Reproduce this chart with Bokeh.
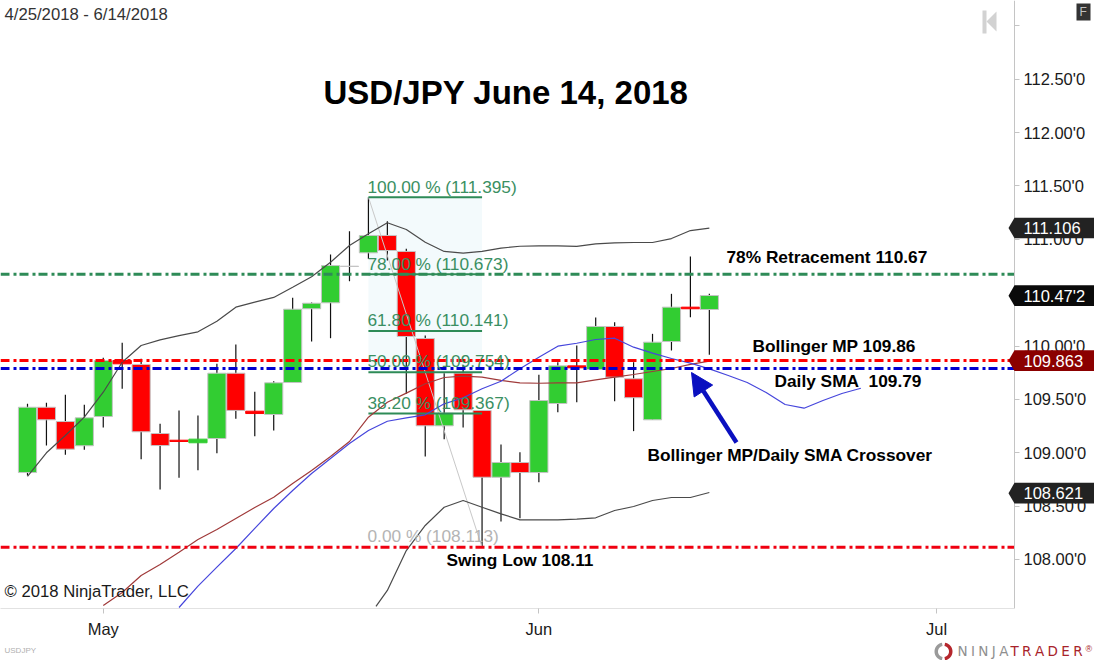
import numpy as np
from bokeh.plotting import figure
from bokeh.models import (Range1d, FixedTicker, CustomJSTickFormatter, Label, LinearAxis,
                          PolyAnnotation, Arrow, NormalHead)
from bokeh.embed import file_html
from bokeh.resources import INLINE

# ---- data ----
opens = [108.814,109.426,109.292,109.065,109.339,109.864,109.827,109.180,109.117,109.093,
         109.133,109.745,109.389,109.358,109.658,110.349,110.405,110.748,110.873,111.036,
         110.886,110.070,109.252,109.745,109.396,108.770,108.908,108.814,109.461,109.814,
         109.780,110.183,109.693,109.308,110.042,110.364,110.342]
closes = [109.426,109.308,109.033,109.327,109.864,109.833,109.196,109.067,109.105,109.127,
          109.745,109.396,109.367,109.655,110.345,110.401,110.754,110.745,111.036,110.895,
          110.089,109.252,109.370,109.402,108.770,108.908,108.814,109.489,109.814,109.796,
          110.183,109.708,109.515,110.036,110.364,110.349,110.473]
highs = [109.458,109.468,109.543,109.449,109.889,110.030,109.880,109.271,109.396,109.349,
         109.833,110.014,109.571,109.670,110.452,110.408,110.858,111.076,111.395,111.170,
         110.911,110.098,109.745,109.817,109.396,109.077,109.005,109.730,109.848,110.005,
         110.267,110.223,109.848,110.114,110.489,110.839,110.489]
lows = [108.786,109.067,108.980,109.027,109.236,109.599,108.939,108.655,108.765,108.836,
        108.995,109.318,109.155,109.208,109.658,110.042,110.073,110.607,110.817,110.801,
        109.552,108.964,109.127,109.236,108.113,108.355,108.386,108.724,109.380,109.473,
        109.780,109.483,109.202,109.308,109.958,110.270,109.918]

boll_upper = [108.777,108.999,109.161,109.333,109.567,109.848,110.005,110.058,110.098,110.133,
              110.232,110.364,110.411,110.455,110.551,110.649,110.785,110.942,111.052,111.155,
              111.092,110.973,110.886,110.870,110.886,110.917,110.935,110.939,110.939,110.933,
              110.958,110.967,110.970,110.970,111.007,111.082,111.104]
boll_lower_x = [18.4] + list(range(19, 37))
boll_lower = [107.559,107.709,108.083,108.318,108.489,108.552,108.489,108.427,108.371,108.371,
              108.371,108.377,108.390,108.458,108.496,108.552,108.580,108.580,108.627]
boll_mid_start = 4
boll_mid = [107.568,107.690,107.849,107.952,108.067,108.187,108.280,108.383,108.486,108.583,
            108.711,108.833,108.964,109.105,109.333,109.473,109.558,109.646,109.705,109.717,
            109.708,109.677,109.655,109.651,109.655,109.655,109.683,109.708,109.733,109.761,
            109.789,109.827,109.858]
sma_start = 8
sma = [107.549,107.749,107.927,108.102,108.290,108.477,108.646,108.805,108.946,109.086,
       109.208,109.295,109.327,109.355,109.458,109.515,109.599,109.670,109.786,109.895,
       109.998,110.026,110.061,110.073,109.989,109.933,109.883,109.839,109.786,109.724,
       109.658,109.564,109.452,109.417,109.489,109.555,109.604]

fib_levels = [111.395, 110.673, 110.141, 109.754, 109.367, 108.113]
fib_labels = ["100.00 % (111.395)", "78.00 % (110.673)", "61.80 % (110.141)",
              "50.00 % (109.754)", "38.20 % (109.367)", "0.00 % (108.113)"]
fib_start, fib_end = 18, 24

retrace_78, boll_mp, daily_sma, swing_low = 110.673, 109.863, 109.79, 108.113

month_ticks = [4, 27, 48]
month_names = ["May", "Jun", "Jul"]
price_ticks = [108.0, 108.5, 109.0, 109.5, 110.0, 110.5, 111.0, 111.5, 112.0, 112.5, 113.0]

tag_prices = [111.106, 110.472, 109.863, 108.621]
tag_texts = ["111.106", "110.47'2", "109.863", "108.621"]
tag_colors = ["#222222", "#0a0a0a", "#8b0000", "#222222"]

# ---- page geometry helpers: page pixel -> chart coordinates ----
def px(x):
    return (x - 27.0) / 18.94
def py(y):
    return 110.0 + (345.5 - y) / 106.7

p = figure(width=1094, height=660, output_backend="svg", toolbar_location=None,
           x_axis_location=None, y_axis_location=None,
           x_range=Range1d(px(0), px(1094)), y_range=Range1d(py(660), py(0)),
           min_border_left=0, min_border_top=0, min_border_right=0, min_border_bottom=0)
p.outline_line_color = None
p.grid.visible = False
p.background_fill_color = "white"
p.border_fill_color = "white"

AX = "#c4c4c4"
FONT = "Liberation Sans"

ax = LinearAxis(fixed_location=px(1014), bounds=(py(608), py(0)))
ax.ticker = FixedTicker(ticks=price_ticks)
ax.formatter = CustomJSTickFormatter(code="return tick >= 113 ? '' : tick.toFixed(2) + \"'0\";")
ax.axis_line_color = AX
ax.major_tick_line_color = AX
ax.major_tick_in = 0
ax.major_tick_out = 5
ax.minor_tick_line_color = None
ax.major_label_standoff = 4
ax.major_label_text_font = FONT
ax.major_label_text_font_size = "16.5px"
ax.major_label_text_color = "#1a1a1a"
p.add_layout(ax, "right")

bx = LinearAxis(fixed_location=py(608), bounds=(px(0), px(1014)))
bx.ticker = FixedTicker(ticks=month_ticks)
bx.major_label_overrides = dict(zip(month_ticks, month_names))
bx.axis_line_color = AX
bx.axis_line_dash = "1 1"
bx.major_tick_line_color = AX
bx.major_tick_in = 0
bx.major_tick_out = 5
bx.minor_tick_line_color = None
bx.major_label_standoff = 6
bx.major_label_text_font = FONT
bx.major_label_text_font_size = "16.5px"
bx.major_label_text_color = "#1a1a1a"
p.add_layout(bx, "below")

# Fibonacci shading
p.varea(x=[fib_start, fib_end], y1=[fib_levels[3]] * 2, y2=[fib_levels[0]] * 2,
        fill_color="#f3fafc")

# Candles
idx = np.arange(len(opens))
o, c = np.array(opens), np.array(closes)
up = c >= o
fills = ["#c4c4c4" if abs(a - b) < 0.005 else ("#32cd32" if u else "#ff0000")
         for u, a, b in zip(up, o, c)]
edges = [f if abs(a - b) < 0.04 else "#c4c4c4" for f, a, b in zip(fills, o, c)]
p.segment(idx, lows, idx, highs, line_color="#111111", line_width=1.2)
p.vbar(x=idx, width=0.96, bottom=np.minimum(o, c), top=np.maximum(o, c),
       fill_color=fills, line_color=edges, line_width=1)

# Fibonacci diagonal and levels
p.line([fib_start, fib_end], [fib_levels[0], fib_levels[-1]], line_color="#c8c8c8", line_width=1)
for lv in fib_levels[:-1]:
    p.line([fib_start, fib_end], [lv, lv], line_color="#2e8b57", line_width=2)

# Indicators
p.line(idx, boll_upper, line_color="#4a4a4a", line_width=1.2)
p.line(boll_lower_x, boll_lower, line_color="#4a4a4a", line_width=1.2)
p.line(np.arange(len(boll_mid)) + boll_mid_start, boll_mid, line_color="#a03a3a", line_width=1.2)
p.line(np.arange(len(sma)) + sma_start, sma, line_color="#4646dc", line_width=1.2)

# Horizontal levels
DASH = "9 4 3 3"
xl = [px(0), px(1014)]
p.line(xl, [retrace_78] * 2, line_color="#2e8b57", line_width=3, line_dash=DASH)
p.line(xl, [boll_mp] * 2, line_color="#ff0000", line_width=3, line_dash=DASH)
p.line(xl, [daily_sma] * 2, line_color="#0000d0", line_width=3, line_dash=DASH)
p.line(xl, [swing_low] * 2, line_color="#f00010", line_width=3, line_dash=DASH)

# Arrow
p.add_layout(Arrow(end=NormalHead(size=22, fill_color="#0a10c0", line_color="#0a10c0"),
                   x_start=px(736), y_start=py(442), x_end=px(691), y_end=py(372),
                   line_color="#0a10c0", line_width=4.5))

def lab(x, y, text, size=16, color="#000000", bold=False, font=FONT):
    # y is the page row of the text's baseline
    p.add_layout(Label(x=px(x), y=py(y - 0.38 * size), text=text, text_font=font,
                       text_font_size=f"{size}px", text_color=color,
                       text_font_style="bold" if bold else "normal",
                       text_baseline="alphabetic", text_align="left"))

# Price tags
half = py(0) - py(10.3)
for price, col in zip(tag_prices, tag_colors):
    xs = [px(1008), px(1014), px(1094), px(1094), px(1014)]
    ys = [price, price + half, price + half, price - half, price - half]
    p.add_layout(PolyAnnotation(xs=xs, ys=ys, fill_color=col, fill_alpha=1, line_color=None))
for price, text in zip(tag_prices, tag_texts):
    p.add_layout(Label(x=px(1023), y=price, text=text, text_font=FONT, text_font_size="16.5px",
                       text_color="#ffffff", text_baseline="middle", text_align="left"))

# Fib labels
fib_y = [193, 270, 326.5, 367, 409, 542.5]
for t, y, col in zip(fib_labels, fib_y, ["#3a8f62"] * 5 + ["#b4b4b4"]):
    lab(367, y, t, size=17.3, color=col)

# Title and notes
lab(323, 105, "USD/JPY June 14, 2018", size=33, bold=True)
lab(726, 263, "78% Retracement 110.67", size=17.3, bold=True)
lab(752, 352, "Bollinger MP 109.86", size=17.3, bold=True)
lab(774, 387, "Daily SMA\u00a0 109.79", size=17.3, bold=True)
lab(647, 461, "Bollinger MP/Daily SMA Crossover", size=17.3, bold=True)
lab(446, 566, "Swing Low 108.11", size=17.3, bold=True)
lab(4, 20, "4/25/2018 - 6/14/2018", size=16.7, color="#333333")
lab(4, 597, "\u00a9 2018 NinjaTrader, LLC", size=16.7, color="#1a1a1a")
lab(4, 653, "USDJPY", size=8, color="#b0b0b0")

# F button and skip icon
p.add_layout(PolyAnnotation(xs=[px(1076), px(1090), px(1090), px(1076)],
                            ys=[py(3), py(3), py(20), py(20)], fill_color="#333333", fill_alpha=1,
                            line_color=None))
lab(1079, 16, "F", size=12, color="#c0c0c0")
p.add_layout(PolyAnnotation(xs=[px(982), px(986), px(986), px(982)],
                            ys=[py(10), py(10), py(33), py(33)], fill_color="#d2d2d2", fill_alpha=1,
                            line_color=None))
p.add_layout(PolyAnnotation(xs=[px(996), px(986), px(996)],
                            ys=[py(11), py(21), py(31)], fill_color="#d2d2d2", fill_alpha=1,
                            line_color=None))

# Logo
def ring(cx, cy, a0, a1, r0=9.0, r1=5.5):
    t = np.radians(np.linspace(a0, a1, 20))
    xs = np.r_[cx + r0 * np.cos(t), cx + r1 * np.cos(t[::-1])]
    ys = np.r_[cy - r0 * np.sin(t), cy - r1 * np.sin(t[::-1])]
    return [px(v) for v in xs], [py(v) for v in ys]
for a0, a1, col in [(100, 260, "#9a9a9a"), (-80, 80, "#b5262c")]:
    rx, ry = ring(943, 651, a0, a1)
    p.add_layout(PolyAnnotation(xs=rx, ys=ry, fill_color=col, fill_alpha=1, line_color=None))
s = "\u2005"
lab(957, 656, s.join("NINJA"), size=13.5, color="#8f8f8f", font="DejaVu Sans")
lab(1010, 656, s.join("TRADER"), size=13.5, color="#a8232a", font="DejaVu Sans")
lab(1085, 652, "\u00ae", size=9, color="#a8232a")

open("out.html", "w").write(file_html(p, INLINE))
